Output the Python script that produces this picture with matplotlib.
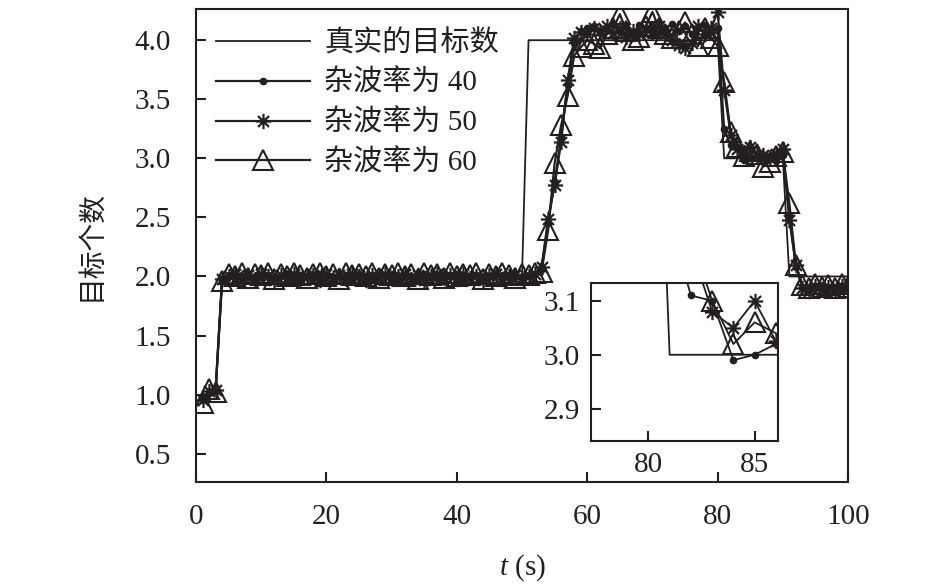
import numpy as np
import matplotlib.pyplot as plt
from matplotlib.path import Path

plt.rcParams['font.family'] = ['Liberation Serif', 'Noto Sans CJK SC']
plt.rcParams['mathtext.fontset'] = 'custom'
plt.rcParams['mathtext.it'] = 'Liberation Serif:italic'
plt.rcParams['mathtext.rm'] = 'Liberation Serif'

# time axis, one sample per second
t = np.arange(1, 101)

# true number of targets
true_n = [1, 1, 1, 2, 2, 2, 2, 2, 2, 2,
          2, 2, 2, 2, 2, 2, 2, 2, 2, 2,
          2, 2, 2, 2, 2, 2, 2, 2, 2, 2,
          2, 2, 2, 2, 2, 2, 2, 2, 2, 2,
          2, 2, 2, 2, 2, 2, 2, 2, 2, 2,
          4, 4, 4, 4, 4, 4, 4, 4, 4, 4,
          4, 4, 4, 4, 4, 4, 4, 4, 4, 4,
          4, 4, 4, 4, 4, 4, 4, 4, 4, 4,
          3, 3, 3, 3, 3, 3, 3, 3, 3, 3,
          2, 2, 2, 2, 2, 2, 2, 2, 2, 2]

# estimated number, clutter rate 40
est40 = [0.96, 1.01, 1.03, 1.97, 2.01, 1.99, 2.00, 2.02, 1.98, 2.00,
         2.01, 1.99, 2.00, 2.02, 1.98, 2.01, 2.00, 1.99, 2.02, 2.00,
         1.98, 2.00, 2.01, 1.99, 2.02, 2.00, 1.98, 2.01, 2.00, 2.02,
         1.99, 2.01, 2.00, 1.98, 2.02, 2.00, 1.99, 2.01, 2.00, 2.02,
         1.98, 2.00, 2.01, 1.99, 2.00, 2.02, 1.99, 2.01, 2.00, 1.98,
         2.01, 2.02, 2.06, 2.45, 2.80, 3.18, 3.62, 3.98, 4.08, 4.10,
         4.12, 4.06, 4.10, 4.14, 4.08, 4.11, 4.05, 4.13, 4.09, 4.12,
         4.06, 4.10, 4.14, 4.08, 4.12, 4.05, 4.10, 4.13, 4.07, 4.10,
         3.25, 3.11, 3.10, 2.99, 3.00, 3.02, 3.01, 3.00, 2.98, 3.03,
         2.52, 2.08, 1.91, 1.89, 1.90, 1.92, 1.89, 1.91, 1.90, 1.89]

# estimated number, clutter rate 50
est50 = [0.95, 1.03, 1.04, 1.98, 2.00, 2.02, 1.99, 2.01, 1.98, 2.02,
         2.00, 1.97, 2.01, 1.99, 2.02, 1.98, 2.00, 2.01, 1.97, 2.02,
         1.99, 2.01, 1.98, 2.02, 2.00, 1.97, 2.01, 1.99, 2.02, 1.98,
         2.00, 2.02, 1.98, 2.01, 1.97, 2.00, 2.02, 1.99, 2.01, 1.98,
         2.02, 1.99, 2.00, 1.97, 2.01, 2.02, 1.98, 2.00, 2.01, 1.99,
         2.00, 2.02, 2.08, 2.49, 2.77, 3.14, 3.66, 4.02, 4.07, 4.05,
         4.10, 4.08, 4.12, 4.06, 4.10, 4.03, 4.08, 4.05, 4.10, 4.07,
         4.12, 4.05, 4.00, 3.96, 3.93, 3.98, 4.12, 4.05, 4.10, 4.24,
         3.58, 3.20, 3.08, 3.05, 3.10, 3.025, 3.03, 3.01, 3.04, 3.08,
         2.48, 2.10, 1.90, 1.88, 1.92, 1.89, 1.91, 1.88, 1.92, 1.90]

# estimated number, clutter rate 60
est60 = [0.93, 1.05, 1.02, 1.96, 2.02, 2.00, 2.03, 1.99, 2.02, 2.01,
         2.03, 1.98, 2.02, 2.00, 2.03, 2.01, 1.99, 2.02, 2.03, 2.00,
         2.02, 1.98, 2.03, 2.01, 2.02, 2.00, 2.03, 1.99, 2.02, 2.01,
         2.03, 2.00, 2.02, 1.98, 2.03, 2.01, 2.02, 1.99, 2.03, 2.00,
         2.02, 2.01, 2.03, 1.98, 2.02, 2.00, 2.03, 2.01, 1.99, 2.02,
         2.01, 2.03, 2.04, 2.39, 2.96, 3.28, 3.53, 3.87, 3.94, 4.00,
         3.97, 3.93, 4.05, 4.10, 4.22, 4.08, 4.00, 4.03, 4.12, 4.24,
         4.10, 4.05, 4.02, 4.08, 4.15, 4.05, 3.95, 4.10, 4.02, 3.95,
         3.65, 3.22, 3.10, 3.02, 3.06, 3.04, 2.93, 2.97, 3.02, 3.05,
         2.62, 2.10, 1.93, 1.90, 1.94, 1.91, 1.93, 1.90, 1.94, 1.91]

labels = ['真实的目标数', '杂波率为 40', '杂波率为 50', '杂波率为 60']

col = '#231f20'

# asterisk marker: plus + cross
d = 0.72
asterisk = Path([(0, -1), (0, 1), (-1, 0), (1, 0),
                 (-d, -d), (d, d), (-d, d), (d, -d)],
                [Path.MOVETO, Path.LINETO] * 4)


def draw(ax, lw=1.6):
    ax.plot(t, true_n, color=col, lw=1.3, label=labels[0])
    ax.plot(t, est40, color=col, lw=lw, marker='o', ms=4.5, label=labels[1])
    ax.plot(t, est50, color=col, lw=lw, marker=asterisk, ms=11, mew=1.6,
            label=labels[2])
    ax.plot(t, est60, color=col, lw=lw, marker='^', ms=14, mfc='none',
            mew=1.5, label=labels[3])


fig = plt.figure(figsize=(9.45, 5.86), dpi=100)
ax = fig.add_axes([0.2074, 0.1775, 0.69, 0.8063])
draw(ax)
ax.set_xlim(0, 100)
ax.set_ylim(0.26, 4.26)
ax.set_xticks([0, 20, 40, 60, 80, 100])
ax.set_yticks([0.5, 1.0, 1.5, 2.0, 2.5, 3.0, 3.5, 4.0])
ax.set_yticklabels(['0.5', '1.0', '1.5', '2.0', '2.5', '3.0', '3.5', '4.0'])
ax.tick_params(direction='in', length=7, width=1.5, labelsize=21,
               top=False, right=False, colors=col)
ax.tick_params(axis='x', pad=16)
ax.tick_params(axis='y', pad=18)
for s in ax.spines.values():
    s.set_linewidth(1.5)
    s.set_color(col)

ax.set_xlabel('$t$ (s)', fontsize=21, color=col, labelpad=16)
ax.set_ylabel('目标个数', fontsize=20, color=col, labelpad=22)

leg = ax.legend(loc='upper left', bbox_to_anchor=(0.0, 1.0), frameon=False,
                fontsize=21, numpoints=1, handlelength=3.2,
                handletextpad=0.5, labelspacing=0.43, borderaxespad=0.3)
for txt in leg.get_texts():
    txt.set_color(col)

# zoomed inset
axi = fig.add_axes([0.6254, 0.2474, 0.1979, 0.2696])
draw(axi, lw=1.3)
axi.set_xlim(77.3, 86.1)
axi.set_ylim(2.84, 3.133)
axi.set_xticks([80, 85])
axi.set_yticks([2.9, 3.0, 3.1])
axi.set_yticklabels(['2.9', '3.0', '3.1'])
axi.tick_params(direction='in', length=7, width=1.5, labelsize=21,
                top=False, right=False, colors=col, pad=8)
for s in axi.spines.values():
    s.set_linewidth(1.5)
    s.set_color(col)

fig.savefig('out.png', dpi=100)
